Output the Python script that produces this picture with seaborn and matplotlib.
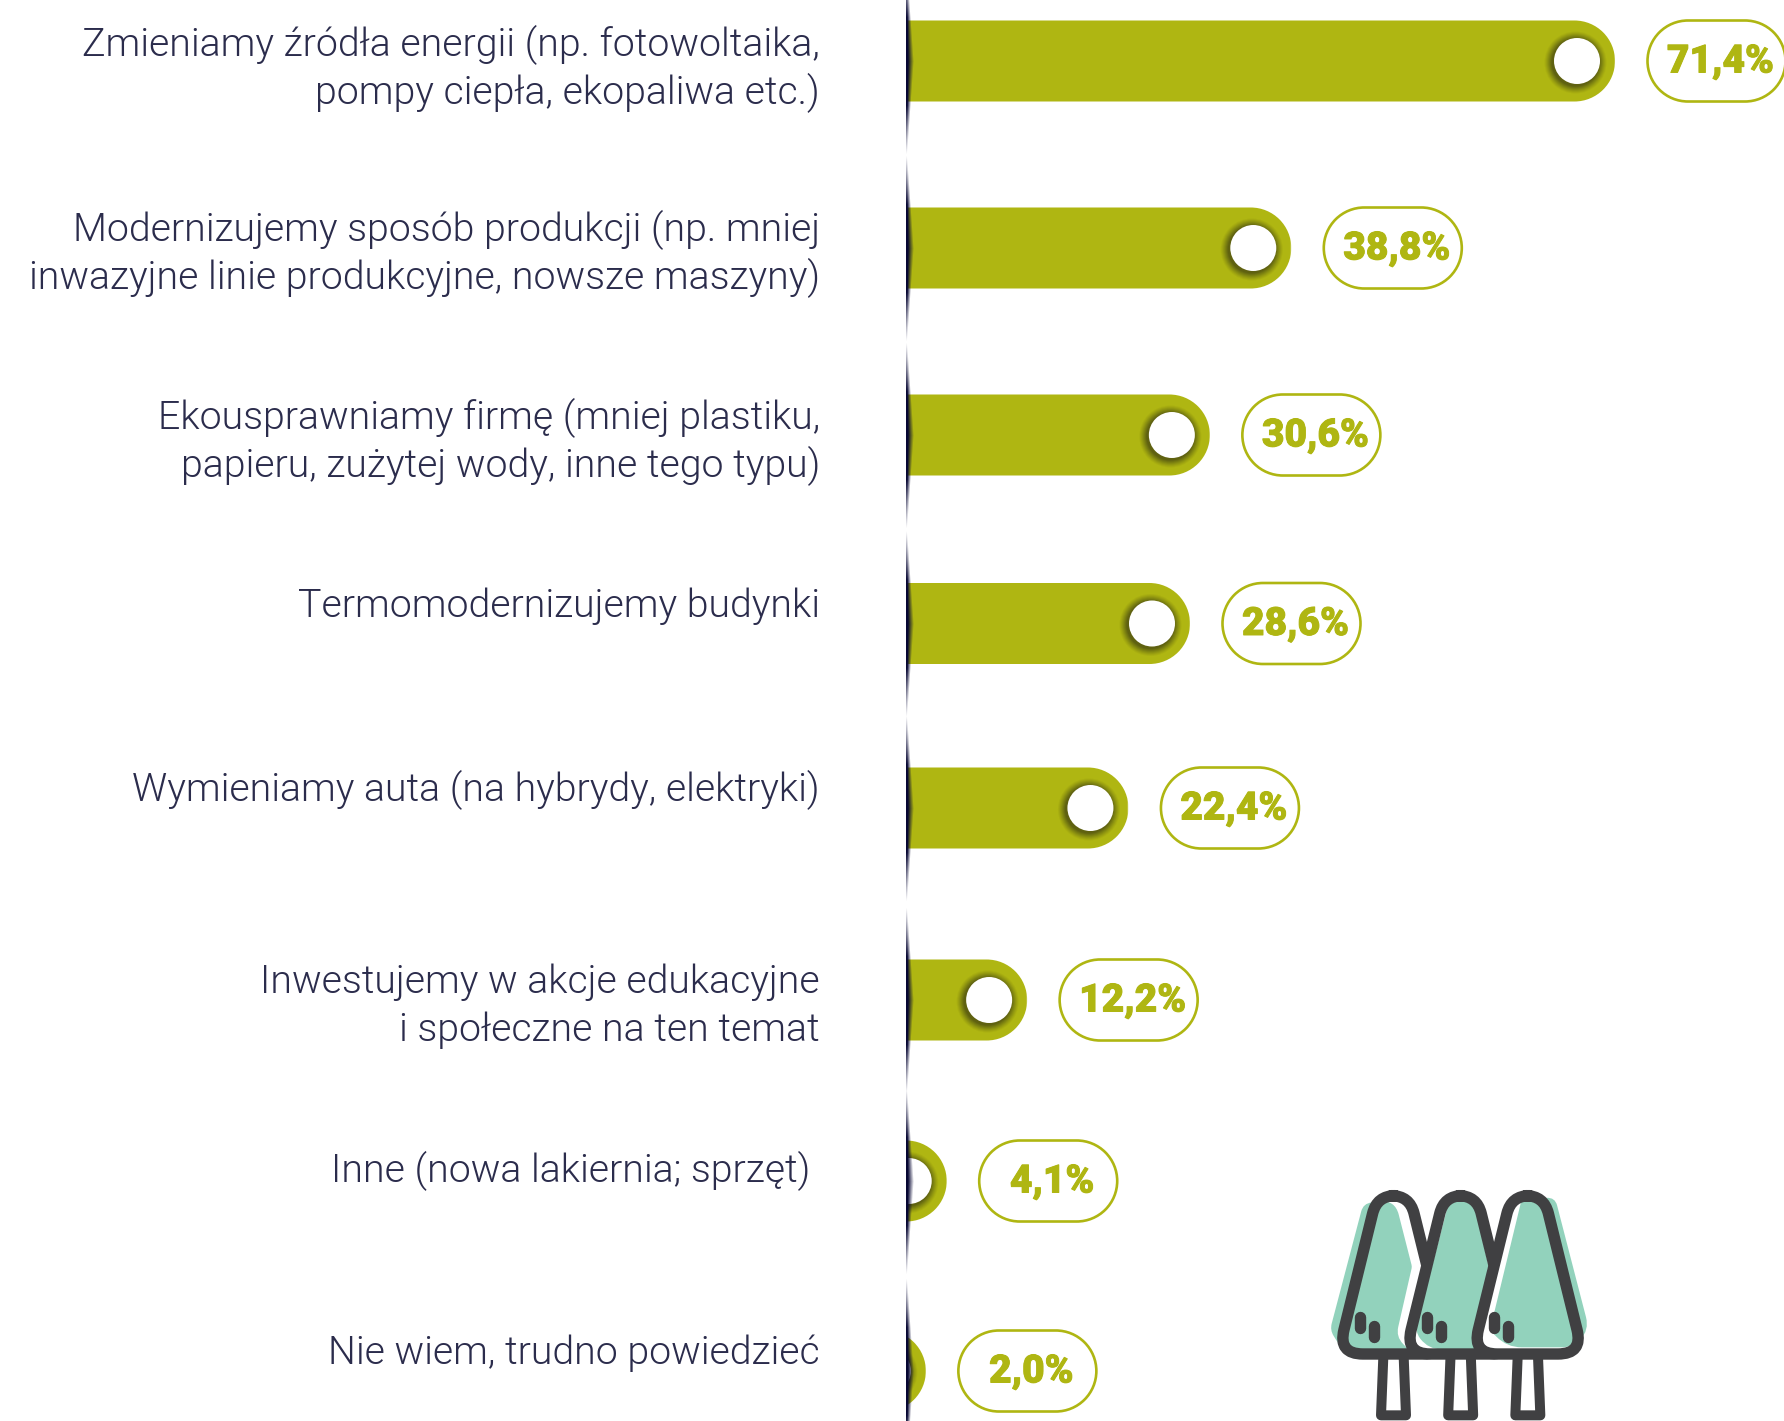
import numpy as np
import pandas as pd
import matplotlib
matplotlib.use("Agg")
import matplotlib.pyplot as plt
import matplotlib.patheffects as pe
import seaborn as sns
from matplotlib.patches import Circle, PathPatch, Rectangle
from matplotlib.path import Path
from matplotlib.transforms import Affine2D

categories = [
    ["Zmieniamy źródła energii (np. fotowoltaika,", "pompy ciepła, ekopaliwa etc.)"],
    ["Modernizujemy sposób produkcji (np. mniej", "inwazyjne linie produkcyjne, nowsze maszyny)"],
    ["Ekousprawniamy firmę (mniej plastiku,", "papieru, zużytej wody, inne tego typu)"],
    ["Termomodernizujemy budynki"],
    ["Wymieniamy auta (na hybrydy, elektryki)"],
    ["Inwestujemy w akcje edukacyjne", "i społeczne na ten temat"],
    ["Inne (nowa lakiernia; sprzęt) "],
    ["Nie wiem, trudno powiedzieć"],
]
values = [71.4, 38.8, 30.6, 28.6, 22.4, 12.2, 4.1, 2.0]
value_labels = ["71,4%", "38,8%", "30,6%", "28,6%", "22,4%", "12,2%", "4,1%", "2,0%"]

# layout (pixels)
W, H = 1784, 1421
AXIS_X, K = 906, 9.93
bar_y = [61, 248, 435, 623.5, 808, 1000, 1181, 1371]
label_baseline = [56, 241, 429, 617, 801, 993, 1182, 1364]
LINE_GAP = 48
BAR_H, R, HOLE = 81, 40.5, 23
OLIVE, DARK, TEAL, TEXT = "#afb612", "#404042", "#92d2bc", "#2b2c4c"

sns.set_theme(style="white")
plt.rcParams["font.family"] = ["Roboto", "DejaVu Sans"]

fig = plt.figure(figsize=(W / 100, H / 100), dpi=100)
ax = fig.add_axes([0, 0, 1, 1])
df = pd.DataFrame({"pos": bar_y, "value": values})
sns.barplot(data=df, x="value", y="pos", orient="h", native_scale=True,
            color=OLIVE, saturation=1, width=BAR_H, ax=ax, errorbar=None)
ax.set_xlim(-AXIS_X / K, (W - AXIS_X) / K)
ax.set_ylim(H, 0)
ax.axis("off")

px = Affine2D().scale(1, -1).translate(0, H)  # pixel coords, y down


def add(patch, z):
    patch.set_transform(px)
    patch.set_zorder(z)
    ax.add_patch(patch)
    return patch


def capsule(x0, x1, yc, r):
    """Closed stadium outline between x0 and x1 in pixel coordinates."""
    right = Path.arc(-90, 90)
    left = Path.arc(90, 270)
    v_r = right.vertices * r + [x1 - r, yc]
    v_l = left.vertices * r + [x0 + r, yc]
    verts = np.vstack([v_r, v_l, v_r[:1]])
    codes = np.concatenate([right.codes, left.codes, [Path.CLOSEPOLY]])
    codes[len(right.codes)] = Path.LINETO
    return Path(verts, codes)


axis_clip = Rectangle((AXIS_X, 0), W, H, transform=px)
for bar, v, y, lab in zip(list(ax.patches)[:len(values)], values, bar_y, value_labels):
    end = AXIS_X + v * K
    clip = PathPatch(capsule(AXIS_X - 200, end, y, R), transform=px, fc="none", ec="none")
    ax.add_patch(clip)
    bar.set_clip_path(clip)
    cx = end - 38
    # soft shadow around the hole
    for i, a in enumerate(np.linspace(0.05, 0.16, 8)):
        c = Circle((cx - 1.5, y + 1.5), HOLE + 8 - i, fc="#2c2c10", ec="none", alpha=a)
        add(c, 3)
        c.set_clip_path(axis_clip)
    h = Circle((cx, y), HOLE, fc="white", ec="none")
    add(h, 4)
    h.set_clip_path(axis_clip)
    # value pill
    x0 = end + 32.5
    pill_w, pill_h = 138, 81
    add(PathPatch(capsule(x0, x0 + pill_w, y, pill_h / 2), fc="none", ec=OLIVE, lw=1.9), 5)
    ax.text(x0 + pill_w / 2 + 4, y + 1, lab, transform=px, ha="center", va="center",
            fontsize=28, fontweight=900, color=OLIVE, zorder=6,
            path_effects=[pe.withStroke(linewidth=0.7, foreground=OLIVE)])

# category labels
for lines, base in zip(categories, label_baseline):
    for n, line in enumerate(lines):
        ax.text(820, base + n * LINE_GAP, line, transform=px, ha="right", va="baseline",
                fontsize=28.3, fontweight=300, color=TEXT, zorder=6)

# vertical shadow along the zero line
ys = np.arange(H)
xs = np.arange(10)
d = np.min(np.abs(ys[:, None] - np.array(bar_y)[None, :]), axis=1)
seg = np.clip(1 - d / 93.0, 0, 1)
width = 1.5 + 6.5 * seg
fade = np.clip(1.35 * (1 - (xs[None, :] + 0.5) / width[:, None]), 0, 1)
alpha = fade * np.clip(seg * 1.9, 0, 1)[:, None]
rgba = np.zeros((H, 10, 4))
rgba[..., 0], rgba[..., 1], rgba[..., 2] = 0.03, 0.03, 0.2
rgba[..., 3] = alpha
ax.imshow(rgba, extent=(0, 10, H, 0), transform=Affine2D().translate(AXIS_X, 0) + px,
          aspect="auto", zorder=7, interpolation="bilinear")
ax.set_xlim(-AXIS_X / K, (W - AXIS_X) / K)
ax.set_ylim(H, 0)


# tree icon, icon units are 1/3 pixel
def icon(x, y):
    return 1300 + x / 3, 1150 + y / 3


def rounded(points, radii):
    verts, codes = [], []
    n = len(points)
    for i in range(n):
        p = np.array(points[i], float)
        a = np.array(points[i - 1], float)
        b = np.array(points[(i + 1) % n], float)
        r = radii[i]
        p1 = p + (a - p) / np.linalg.norm(a - p) * r
        p2 = p + (b - p) / np.linalg.norm(b - p) * r
        verts += [tuple(p1), tuple(p), tuple(p2)]
        codes += [Path.MOVETO if i == 0 else Path.LINETO, Path.CURVE3, Path.CURVE3]
    verts.append(verts[0])
    codes.append(Path.CLOSEPOLY)
    verts = [icon(*v) for v in verts]
    return Path(verts, codes)


teal_shapes = [
    ([(190, 160), (285, 150), (336, 350), (288, 560), (325, 598), (130, 605), (90, 540)], [25, 45, 6, 30, 3, 40, 20]),
    ([(448, 150), (520, 150), (565, 345), (528, 598), (385, 598), (345, 545)], [8, 30, 4, 3, 40, 25]),
    ([(665, 148), (765, 142), (868, 540), (820, 592), (620, 592), (570, 540)], [8, 25, 40, 35, 45, 8]),
]
for i, shift in enumerate([0, 201.5, 403]):
    outline = [(231 + shift, 137), (329 + shift, 137), (446 + shift, 612), (114 + shift, 612)]
    radii = [55, 55, 75, 75]
    path = rounded(outline, radii)
    add(PathPatch(path, fc="white", ec="none"), 10 + i)
    pts, rr = teal_shapes[i]
    add(PathPatch(rounded(pts, rr), fc=TEAL, ec="none"), 10.1 + i)
    add(PathPatch(path, fc="none", ec=DARK, lw=8.2, joinstyle="round"), 10.2 + i)
    trunk = [icon(250 + shift, 620), icon(243 + shift, 796), icon(318 + shift, 796), icon(311 + shift, 620)]
    add(PathPatch(Path(trunk), fc="none", ec=DARK, lw=7.2, joinstyle="round", capstyle="butt"), 10.2 + i)
    for (dx, y0, y1) in [(180, 500, 533), (221, 527, 560)]:
        add(PathPatch(Path([icon(dx + shift, y0), icon(dx + shift, y1)]), fc="none", ec=DARK,
                      lw=8.2, capstyle="round"), 10.3 + i)

fig.savefig("out.png", dpi=100, facecolor="white")
